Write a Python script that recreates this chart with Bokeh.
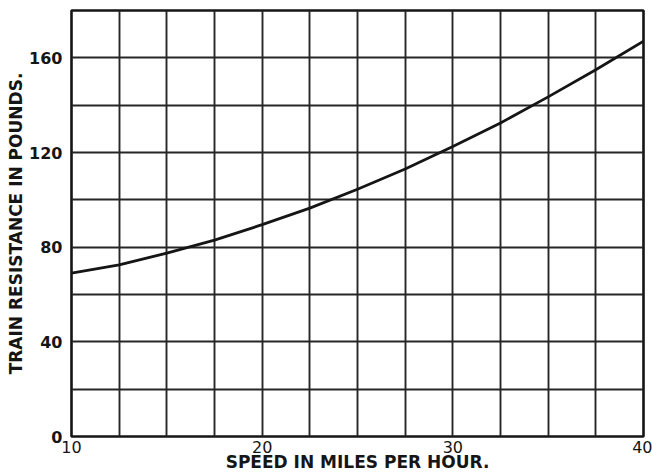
from bokeh.plotting import figure
from bokeh.models import Range1d, FixedTicker
from bokeh.embed import file_html
from bokeh.resources import INLINE

# Data
speed_mph = [10, 12.5, 15, 17.5, 20, 22.5, 25, 27.5, 30, 32.5, 35, 37.5, 40]
resistance_lb = [69, 72.5, 77.5, 83, 89.5, 96.5, 104.5, 113, 122.5, 132.5, 143.5, 155, 167]

x_tick_values = [10, 20, 30, 40]
y_tick_values = [0, 40, 80, 120, 160]
x_grid_values = [10, 12.5, 15, 17.5, 20, 22.5, 25, 27.5, 30, 32.5, 35, 37.5, 40]
y_grid_values = [0, 20, 40, 60, 80, 100, 120, 140, 160, 180]

x_title = "SPEED IN MILES PER HOUR."
y_title = "TRAIN RESISTANCE IN POUNDS."

INK = "#151515"

p = figure(width=652, height=474, output_backend="svg", toolbar_location=None,
           x_range=Range1d(10, 40), y_range=Range1d(0, 180),
           min_border_left=71, min_border_right=9, min_border_top=10, min_border_bottom=38)

p.background_fill_color = "white"
p.border_fill_color = "white"
p.outline_line_color = INK
p.outline_line_width = 2.6

# grids
p.xgrid.ticker = FixedTicker(ticks=x_grid_values)
p.ygrid.ticker = FixedTicker(ticks=y_grid_values)
for g in (p.xgrid, p.ygrid):
    g.grid_line_color = "#262626"
    g.grid_line_width = 1.9
    g.grid_line_alpha = 1.0

# axes
p.xaxis.ticker = FixedTicker(ticks=x_tick_values)
p.yaxis.ticker = FixedTicker(ticks=y_tick_values)
for ax in (p.xaxis, p.yaxis):
    ax.axis_line_color = None
    ax.major_tick_line_color = None
    ax.minor_tick_line_color = None
    ax.major_tick_in = 0
    ax.major_tick_out = 0
    ax.minor_tick_in = 0
    ax.minor_tick_out = 0
    ax.major_label_text_color = INK
    ax.major_label_text_font = "DejaVu Sans"
    ax.axis_label_text_font = "DejaVu Sans"
    ax.axis_label_text_font_style = "bold"
    ax.axis_label_text_font_size = "17px"
    ax.axis_label_text_color = INK

p.xaxis.major_label_text_font_size = "16px"
p.xaxis.major_label_standoff = 4
p.xaxis.axis_label = x_title
p.xaxis.axis_label_standoff = -4

p.yaxis.major_label_text_font_size = "16px"
p.yaxis.major_label_text_font_style = "bold"
p.yaxis.major_label_standoff = 9
p.yaxis.axis_label = y_title
p.yaxis.axis_label_standoff = 0

# curve
p.line(speed_mph, resistance_lb, line_color=INK, line_width=2.8, line_join="round", line_cap="round")

open("out.html", "w").write(file_html(p, INLINE))
